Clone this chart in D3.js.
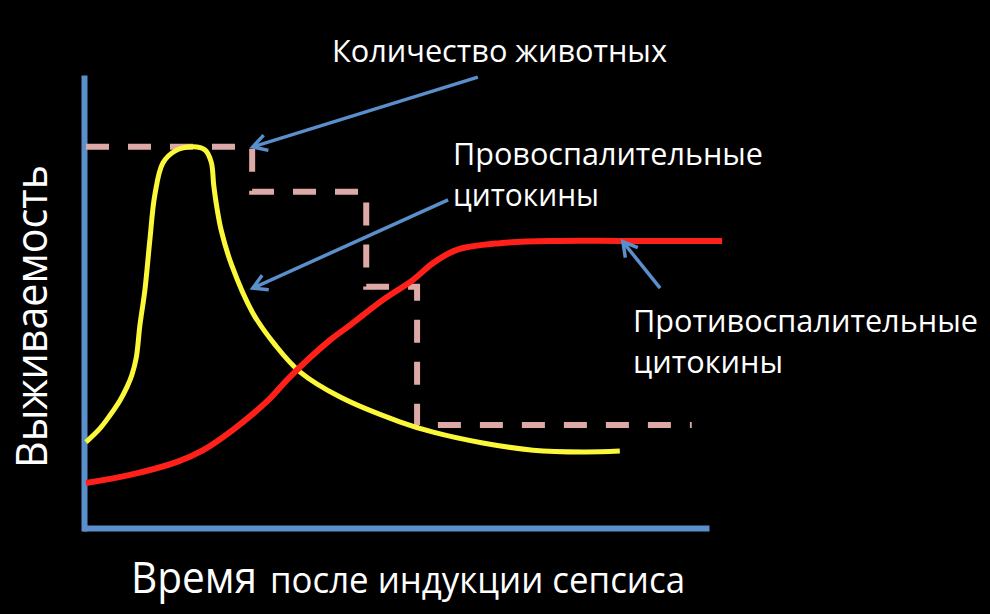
<!DOCTYPE html>
<html>
<head>
<meta charset="utf-8">
<script src="https://cdn.jsdelivr.net/npm/d3@7"></script>
<style>
  html, body { margin: 0; padding: 0; background: #000; }
  svg { display: block; }
</style>
</head>
<body>
<div id="chart"></div>
<script>
/* Sepsis: survival vs. cytokines over time */

// pro-inflammatory cytokines (yellow)
const proTime = [0, 2.3, 3.9, 5.5, 6.6, 7.4, 8.1, 8.7, 9.5, 10.3, 11.1, 12.4, 14.4, 17.3, 19.2, 20.2, 20.6, 21.1, 21.8, 23.5, 26.9, 30.5, 34.5, 41, 50.6, 56, 64, 72.1, 80.2, 86.1];
const proValues = [19.1, 22.2, 25.1, 28.4, 31.3, 34, 37.8, 45.1, 52.9, 64, 74, 81.1, 83.8, 84.7, 84, 81.3, 76.2, 71.3, 66.2, 58.4, 47.8, 40.7, 34.7, 29.1, 23.6, 21.3, 18.9, 17.3, 16.9, 17.1];

// anti-inflammatory cytokines (red)
const antiTime = [0, 7.1, 14.7, 18.9, 23.7, 29.4, 32.9, 39.4, 42.6, 47.9, 52.7, 56, 59.8, 66.8, 76.5, 86.1, 102.6];
const antiValues = [10, 11.8, 14.7, 17.3, 21.8, 28.4, 33.6, 41.8, 45.1, 50.7, 55.1, 58.9, 61.8, 63.3, 63.8, 63.8, 63.8];

// number of animals (dashed steps)
const survTime = [0, 26.8, 45.2, 53.4, 97.7];
const survValues = [84.7, 74.7, 53.6, 22.9, 22.9];

// annotation arrows: tail -> tip, in data units
const arrowTailT = [63.2, 58.4, 92.6];
const arrowTailV = [100.2, 72.9, 53.3];
const arrowTipT = [26.9, 26.9, 86.6];
const arrowTipV = [84.7, 53.3, 63.6];

const labelLines = [
    ["Количество животных"],
    ["Провоспалительные", "цитокины"],
    ["Противоспалительные", "цитокины"]
];

const width = 990,
      height = 614;

let svg = d3.select("#chart")
    .append("svg")
    .attr("width", width)
    .attr("height", height)
    .style("background", "#000");

let x = d3.scaleLinear()
    .domain([0, 100])
    .range([86, 706]);

let y = d3.scaleLinear()
    .domain([0, 100])
    .range([528, 78]);

const blue = "#5b8fcb";

// axes, no ticks
svg.append("g")
    .attr("transform", `translate(0,${y(0)})`)
    .call(d3.axisBottom(x).ticks(0).tickSizeOuter(0))
    .select(".domain")
    .attr("stroke", blue)
    .attr("stroke-width", 6)
    .attr("stroke-linecap", "square");

svg.append("g")
    .attr("transform", `translate(${x(0) - 2},0)`)
    .call(d3.axisLeft(y).ticks(0).tickSizeOuter(0))
    .select(".domain")
    .attr("stroke", blue)
    .attr("stroke-width", 6)
    .attr("stroke-linecap", "square");

// survival steps
let survLine = d3.line()
    .x(d => x(d[0]))
    .y(d => y(d[1]))
    .curve(d3.curveStepAfter);

svg.append("path")
    .datum(d3.zip(survTime, survValues))
    .attr("d", survLine)
    .attr("fill", "none")
    .attr("stroke", "#dca9a7")
    .attr("stroke-width", 6)
    .attr("stroke-dasharray", "23,19");

let smooth = d3.line()
    .x(d => x(d[0]))
    .y(d => y(d[1]))
    .curve(d3.curveCatmullRom.alpha(0.5));

svg.append("path")
    .datum(d3.zip(proTime, proValues))
    .attr("d", smooth)
    .attr("fill", "none")
    .attr("stroke", "#fbf83a")
    .attr("stroke-width", 5);

svg.append("path")
    .datum(d3.zip(antiTime, antiValues))
    .attr("d", smooth)
    .attr("fill", "none")
    .attr("stroke", "#ff2019")
    .attr("stroke-width", 6);

// arrows
let arrows = arrowTipT.map((t, i) => ({
    x1: x(arrowTailT[i]), y1: y(arrowTailV[i]),
    x2: x(t), y2: y(arrowTipV[i])
}));

let arrow = svg.selectAll(".arrow")
    .data(arrows)
    .join("g")
    .attr("class", "arrow")
    .attr("stroke", blue)
    .attr("stroke-width", 3.5)
    .attr("fill", "none");

arrow.append("line")
    .attr("x1", d => d.x1)
    .attr("y1", d => d.y1)
    .attr("x2", d => d.x2)
    .attr("y2", d => d.y2);

arrow.append("path")
    .attr("stroke-linejoin", "miter")
    .attr("d", d => {
        const a = Math.atan2(d.y1 - d.y2, d.x1 - d.x2),
              len = 16, spread = Math.PI / 6;
        const p1 = [d.x2 + len * Math.cos(a - spread), d.y2 + len * Math.sin(a - spread)],
              p2 = [d.x2 + len * Math.cos(a + spread), d.y2 + len * Math.sin(a + spread)];
        return `M${p1}L${d.x2},${d.y2}L${p2}`;
    });

// labels
const font = "'Open Sans', 'Noto Sans', sans-serif";
const labelPos = [
    { x: 332, y: 62, w: [335] },
    { x: 453, y: 165, w: [310, 146] },
    { x: 633, y: 332, w: [345, 150] }
];

labelLines.forEach((lines, i) => {
    lines.forEach((s, j) => {
        svg.append("text")
            .attr("x", labelPos[i].x)
            .attr("y", labelPos[i].y + j * 41)
            .attr("fill", "#fff")
            .attr("font-family", font)
            .attr("font-size", 31)
            .attr("textLength", labelPos[i].w[j])
            .attr("lengthAdjust", "spacingAndGlyphs")
            .text(s);
    });
});

// axis titles
svg.append("text")
    .attr("x", 131)
    .attr("y", 593)
    .attr("fill", "#fff")
    .attr("font-family", font)
    .attr("font-size", 44)
    .attr("textLength", 126)
    .attr("lengthAdjust", "spacingAndGlyphs")
    .text("Время");

svg.append("text")
    .attr("x", 270)
    .attr("y", 593)
    .attr("fill", "#fff")
    .attr("font-family", font)
    .attr("font-size", 37)
    .attr("textLength", 415)
    .attr("lengthAdjust", "spacingAndGlyphs")
    .text("после индукции сепсиса");

svg.append("text")
    .attr("transform", "translate(47,468) rotate(-90)")
    .attr("fill", "#fff")
    .attr("font-family", font)
    .attr("font-size", 43)
    .attr("textLength", 303)
    .attr("lengthAdjust", "spacingAndGlyphs")
    .text("Выживаемость");
</script>
</body>
</html>
